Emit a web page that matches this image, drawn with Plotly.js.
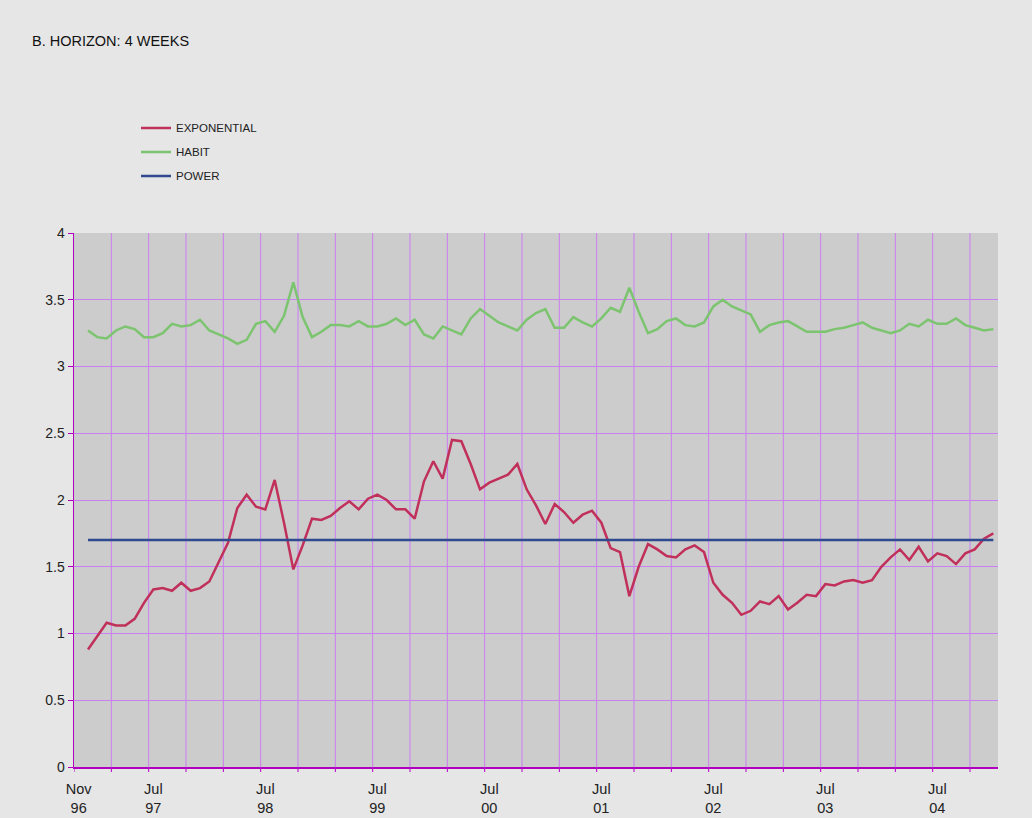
<!DOCTYPE html>
<html><head><meta charset="utf-8">
<script src="https://cdn.plot.ly/plotly-3.0.1.min.js"></script>
<style>html,body{margin:0;padding:0;background:#e6e6e6;}#chart{width:1032px;height:818px;}</style>
</head><body><div id="chart"></div>
<script>
// Category months Nov 96 .. Jan 05
const monthNames = ["Jan","Feb","Mar","Apr","May","Jun","Jul","Aug","Sep","Oct","Nov","Dec"];
const categories = [];
for (let k = 0; k < 99; k++) {
  const m = (10 + k) % 12;
  const y = 1996 + Math.floor((10 + k) / 12);
  categories.push(monthNames[m] + " " + String(y).slice(2));
}
// data months: Dec 96 .. Jan 05
const dataMonths = categories.slice(1);

const exponential = [0.88,0.98,1.08,1.06,1.06,1.11,1.23,1.33,1.34,1.32,1.38,1.32,1.34,1.39,1.53,1.68,1.94,2.04,1.95,1.93,2.15,1.83,1.48,1.66,1.86,1.85,1.88,1.94,1.99,1.93,2.01,2.04,
2.00,1.93,1.93,1.86,2.14,2.29,2.16,2.45,2.44,2.27,2.08,2.13,2.16,2.19,2.27,2.08,1.96,1.82,1.97,1.91,1.83,1.89,1.92,1.83,1.64,1.61,1.28,1.50,1.67,1.63,1.58,1.57,
1.63,1.66,1.61,1.38,1.29,1.23,1.14,1.17,1.24,1.22,1.28,1.18,1.23,1.29,1.28,1.37,1.36,1.39,1.40,1.38,1.40,1.50,1.57,1.63,1.55,1.65,1.54,1.60,1.58,1.52,1.60,1.63,1.71,1.75];

const habit = [3.27,3.22,3.21,3.27,3.30,3.28,3.22,3.22,3.25,3.32,3.30,3.31,3.35,3.27,3.24,3.21,3.17,3.20,3.32,3.34,3.26,3.38,3.63,3.37,3.22,3.26,3.31,3.31,3.30,3.34,3.30,3.30,
3.32,3.36,3.31,3.35,3.24,3.21,3.30,3.27,3.24,3.36,3.43,3.38,3.33,3.30,3.27,3.35,3.40,3.43,3.29,3.29,3.37,3.33,3.30,3.36,3.44,3.41,3.59,3.41,3.25,3.28,3.34,3.36,
3.31,3.30,3.33,3.45,3.50,3.45,3.42,3.39,3.26,3.31,3.33,3.34,3.30,3.26,3.26,3.26,3.28,3.29,3.31,3.33,3.29,3.27,3.25,3.27,3.32,3.30,3.35,3.32,3.32,3.36,3.31,3.29,3.27,3.28];

const power = [1.70,1.70,1.70,1.70,1.70,1.70,1.70,1.70,1.70,1.70,1.70,1.70,1.70,1.70,1.70,1.70,1.70,1.70,1.70,1.70,1.70,1.70,1.70,1.70,1.70,1.70,1.70,1.70,1.70,1.70,1.70,1.70,
1.70,1.70,1.70,1.70,1.70,1.70,1.70,1.70,1.70,1.70,1.70,1.70,1.70,1.70,1.70,1.70,1.70,1.70,1.70,1.70,1.70,1.70,1.70,1.70,1.70,1.70,1.70,1.70,1.70,1.70,1.70,1.70,
1.70,1.70,1.70,1.70,1.70,1.70,1.70,1.70,1.70,1.70,1.70,1.70,1.70,1.70,1.70,1.70,1.70,1.70,1.70,1.70,1.70,1.70,1.70,1.70,1.70,1.70,1.70,1.70,1.70,1.70,1.70,1.70,1.70,1.70];

const seriesNames = ["EXPONENTIAL","HABIT","POWER"];
const seriesColors = ["#c0305a","#7cc46f","#2f4a8e"];

// labels on Nov 96 and each Jul (category centres)
const labelVals = [];
const labelText = [];
// grid/tick boundaries every 4 months (start of Nov, Mar, Jul)
const boundaryVals = [];
for (let k = 0; k < categories.length; k++) {
  const parts = categories[k].split(" ");
  if (k === 0 || parts[0] === "Jul") { labelVals.push(categories[k]); labelText.push(parts[0] + "<br>" + parts[1]); }
  if (k % 4 === 0) boundaryVals.push(k - 0.5);
}
const yTicks = [0,0.5,1,1.5,2,2.5,3,3.5,4];
const yTickText = ["0","0.5","1","1.5","2","2.5","3","3.5","4"];

const font = "Liberation Sans, Arial, Helvetica, sans-serif";
const gridColor = "#c97ef2", axisColor = "#b000c0";
const series = [exponential, habit, power];
const traces = series.map((s, i) => ({
  type: "scatter", mode: "lines", x: dataMonths, y: s, name: seriesNames[i],
  legendgroup: "g" + i,
  line: {color: seriesColors[i], width: 2.5}
}));

// vertical category-boundary grid lines and their tick marks
const shapes = [];
boundaryVals.forEach(b => {
  if (b > -0.5) {
    shapes.push({type: "line", xref: "x", yref: "paper", x0: b, x1: b, y0: 0, y1: 1,
                 line: {color: gridColor, width: 1}, layer: "below"});
  }
  shapes.push({type: "line", xref: "x", yref: "paper", x0: b, x1: b, y0: 0, y1: -5/534,
               line: {color: axisColor, width: 1}, layer: "above"});
});

const xRange = [-0.5, categories.length - 0.5];
const layout = {
  width: 1032, height: 818,
  paper_bgcolor: "#e6e6e6", plot_bgcolor: "#cccccc",
  margin: {l: 74, r: 34, t: 233, b: 51},
  font: {family: font, color: "#222"},
  title: {text: "B. HORIZON: 4 WEEKS", font: {family: font, size: 14.5, color: "#111"},
          xref: "container", yref: "container", x: 32/1032, xanchor: "left", y: 1 - 41/818, yanchor: "middle"},
  showlegend: true,
  legend: {x: (136-74)/924, xanchor: "left", y: 1.224, yanchor: "top", bgcolor: "rgba(0,0,0,0)",
           font: {family: font, size: 11.5, color: "#222"}, tracegroupgap: 5, traceorder: "grouped"},
  xaxis: {type: "category", categoryorder: "array", categoryarray: categories,
          range: xRange, tickmode: "array", tickvals: labelVals, ticktext: labelText, tickangle: 0,
          showgrid: false, showline: true, linecolor: axisColor, linewidth: 1.5, ticks: "",
          ticklabelstandoff: 8,
          tickfont: {family: font, size: 14.5, color: "#222"}, zeroline: false, fixedrange: true},
  yaxis: {range: [0, 4], tickmode: "array", tickvals: yTicks, ticktext: yTickText,
          showgrid: true, gridcolor: gridColor, gridwidth: 1,
          showline: true, linecolor: axisColor, linewidth: 1.5, ticks: "outside", ticklen: 5, tickcolor: axisColor,
          tickfont: {family: font, size: 14, color: "#222"}, zeroline: false, fixedrange: true},
  shapes: shapes
};
Plotly.newPlot("chart", traces, layout, {displayModeBar: false, staticPlot: true});
</script></body></html>
